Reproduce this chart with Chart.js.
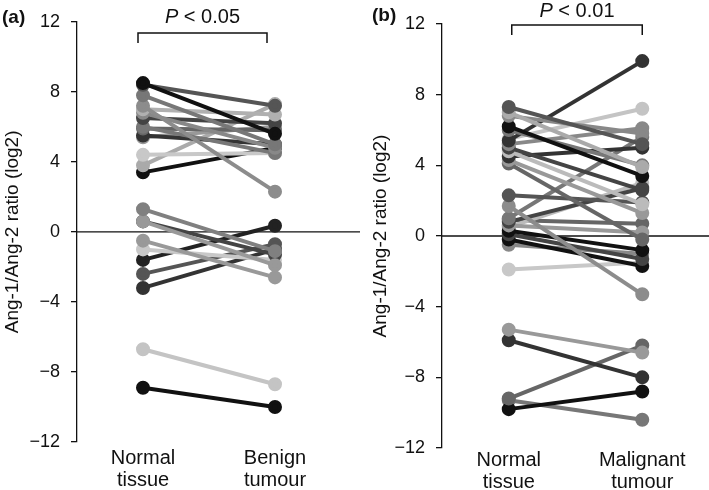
<!DOCTYPE html>
<html>
<head>
<meta charset="utf-8">
<script src="https://cdn.jsdelivr.net/npm/chart.js@4"></script>
<style>
body { margin: 0; background: #fff; width: 709px; height: 490px; position: relative; overflow: hidden; }
#wrapA { position: absolute; left: 0; top: 0; width: 360px; height: 490px; }
#wrapB { position: absolute; left: 360px; top: 0; width: 358px; height: 490px; }
</style>
</head>
<body>
<div id="wrapA"><canvas id="chartA"></canvas></div>
<div id="wrapB"><canvas id="chartB"></canvas></div>
<script>
const FONT = "'Liberation Sans', Arial, sans-serif";

// Panel (a): normal tissue vs benign tumour, one line per patient
const benignLabels = [['Normal', 'tissue'], ['Benign', 'tumour']];
const benignNormal = [8.5, 8.4, 7.8, 7.2, 7.0, 6.8, 6.5, 6.0, 5.9, 5.5, 5.4, 4.4, 3.8, 3.4,
                      1.3, 0.6, 0.6, -0.5, -1.0, -1.6, -2.4, -3.2, -6.7, -8.9];
const benignTumour = [5.6, 7.2, 5.0, 2.3, 6.7, 4.8, 6.2, 4.5, 5.8, 5.0, 6.0, 4.5, 7.3, 4.8,
                      -1.1, -1.9, -1.3, -2.6, -1.6, 0.35, -0.7, -1.0, -8.7, -10.0];
const benignGrays = ['#111', '#555', '#777', '#8c8c8c', '#b0b0b0', '#888', '#444', '#777', '#666', '#333', '#999', '#c8c8c8', '#aaa', '#111',
                     '#808080', '#999', '#444', '#999', '#c8c8c8', '#222', '#555', '#333', '#c4c4c4', '#111'];

// Panel (b): normal tissue vs malignant tumour
const malignantLabels = [['Normal', 'tissue'], ['Malignant', 'tumour']];
const malignantNormal = [7.3, 7.0, 6.8, 6.2, 6.0, 5.4, 5.5, 5.2, 5.0, 4.8, 4.5, 4.3, 4.1, 2.3, 1.7,
                         1.0, 0.8, 0.6, 0.3, 0.1, -0.2, -0.5, -1.9, 0.5, 0.9,
                         -5.3, -5.9, -9.2, -9.8, -9.3];
const malignantTumour = [5.2, 3.9, 5.8, 3.4, 4.0, 9.9, 7.2, 6.1, 2.6, 1.8, 5.0, 1.3, -0.2, 1.9, -3.3,
                         5.6, 2.7, 0.2, -0.8, -1.3, -1.7, -1.0, -1.5, 3.0, 0.7,
                         -6.6, -8.0, -6.2, -8.8, -10.4];
const malignantGrays = ['#555', '#aaa', '#888', '#111', '#777', '#333', '#c4c4c4', '#888', '#444', '#bbb', '#333', '#999', '#666', '#555', '#8c8c8c',
                        '#777', '#444', '#999', '#111', '#444', '#111', '#888', '#c8c8c8', '#bbb', '#666',
                        '#999', '#333', '#666', '#111', '#777'];

const yMin = -12, yMax = 12, yStep = 4;

const decorations = {
    id: 'decorations',
    beforeDatasetsDraw(chart, args, opts) {
        const { ctx, chartArea, scales: { y } } = chart;
        const y0 = y.getPixelForValue(0);
        ctx.save();
        ctx.strokeStyle = '#111';
        ctx.lineWidth = 1.3;
        ctx.beginPath();
        ctx.moveTo(chartArea.left, y0);
        ctx.lineTo(chart.width, y0);
        ctx.stroke();
        ctx.restore();
    },
    afterDraw(chart, args, opts) {
        const { ctx, scales: { x } } = chart;
        const x1 = x.getPixelForValue(0) + opts.dx1;
        const x2 = x.getPixelForValue(1) + opts.dx2;
        ctx.save();
        // bracket
        ctx.strokeStyle = '#111';
        ctx.lineWidth = 1.5;
        ctx.beginPath();
        ctx.moveTo(x1, opts.bracketTop + 10);
        ctx.lineTo(x1, opts.bracketTop);
        ctx.lineTo(x2, opts.bracketTop);
        ctx.lineTo(x2, opts.bracketTop + 10);
        ctx.stroke();
        // P value, italic P
        ctx.fillStyle = '#111';
        ctx.textBaseline = 'middle';
        ctx.textAlign = 'left';
        const rest = ' < ' + opts.p;
        ctx.font = 'italic 20px ' + FONT;
        const wP = ctx.measureText('P').width;
        ctx.font = '20px ' + FONT;
        const wR = ctx.measureText(rest).width;
        let tx = (x1 + x2) / 2 - (wP + wR) / 2;
        ctx.font = 'italic 20px ' + FONT;
        ctx.fillText('P', tx, opts.textY);
        ctx.font = '20px ' + FONT;
        ctx.fillText(rest, tx + wP, opts.textY);
        // panel letter
        ctx.font = 'bold 19px ' + FONT;
        ctx.fillText(opts.letter, opts.letterX, opts.letterY);
        ctx.restore();
    }
};

function makePanel(id, labels, normal, tumour, grays, cfg) {
    const datasets = normal.map((v, i) => ({
        data: [v, tumour[i]],
        borderColor: grays[i],
        backgroundColor: grays[i],
        pointBackgroundColor: grays[i],
        pointBorderColor: grays[i],
        pointRadius: 5,
        borderWidth: 4
    }));
    return new Chart(document.getElementById(id), {
        type: 'line',
        data: { labels: labels, datasets: datasets },
        options: {
            responsive: true,
            maintainAspectRatio: false,
            animation: false,
            layout: { padding: { top: cfg.top, right: cfg.right, left: 0, bottom: 0 } },
            plugins: {
                legend: { display: false },
                tooltip: { enabled: false },
                decorations: cfg.deco
            },
            scales: {
                x: {
                    type: 'category',
                    offset: true,
                    grid: { display: false, drawTicks: false },
                    border: { display: false },
                    ticks: { color: '#111', font: { family: FONT, size: 20, lineHeight: 1.1 }, padding: cfg.xPad, maxRotation: 0 },
                    afterFit(s) { s.height = cfg.xHeight; }
                },
                y: {
                    min: yMin,
                    max: yMax,
                    ticks: {
                        stepSize: yStep,
                        color: '#111',
                        padding: 11,
                        font: { family: FONT, size: 18 },
                        callback: v => v < 0 ? '\u2212' + Math.abs(v) : String(v)
                    },
                    grid: { drawOnChartArea: false, drawTicks: true, tickLength: 6, color: '#111', lineWidth: 1.3 },
                    border: { color: '#111', width: 1.3 },
                    title: {
                        display: true,
                        text: 'Ang-1/Ang-2 ratio (log2)',
                        color: '#111',
                        font: { family: FONT, size: 19 },
                        padding: { top: cfg.titlePad, bottom: 0 }
                    },
                    afterFit(s) { s.width = cfg.yWidth; }
                }
            }
        },
        plugins: [decorations]
    });
}

makePanel('chartA', benignLabels, benignNormal, benignTumour, benignGrays, {
    top: 18, right: 19, xHeight: 48, xPad: 5, yWidth: 77, titlePad: 1,
    deco: { dx1: -5, dx2: -8, bracketTop: 33, textY: 17, p: '0.05', letter: '(a)', letterX: 2, letterY: 18 }
});
makePanel('chartB', malignantLabels, malignantNormal, malignantTumour, malignantGrays, {
    top: 24, right: 0, xHeight: 42, xPad: 1, yWidth: 82, titlePad: 9,
    deco: { dx1: 3, dx2: 0, bracketTop: 25, textY: 11, p: '0.01', letter: '(b)', letterX: 12, letterY: 16 }
});
</script>
</body>
</html>
